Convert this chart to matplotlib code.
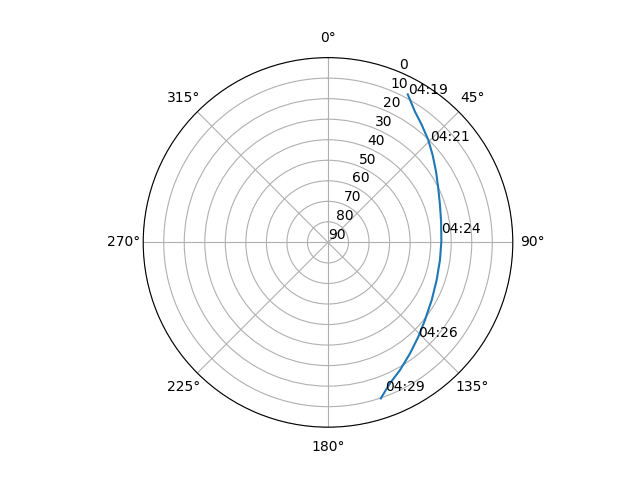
import matplotlib
matplotlib.use('Agg')
import matplotlib.pyplot as plt
import numpy as np

# satellite pass track: azimuth (deg), elevation (deg)
az = [28.3, 33.6, 38.6, 44.4, 50.1, 56.8, 63.9, 71.5, 79.6, 89.6, 98.9,
      109.1, 119.1, 128.7, 136.2, 143.5, 150.6, 156.3, 161.3]
el = [8.1, 13.5, 16.8, 20.2, 23.6, 27.1, 30.2, 32.5, 34.0, 34.8, 34.8,
      34.0, 32.2, 29.5, 26.4, 22.8, 18.6, 15.0, 9.8]

# time marks along the pass
mark_az = [28.3, 45.0, 85.2, 136.5, 159.1]
mark_el = [8.1, 19.9, 34.8, 26.3, 12.5]
mark_txt = ['04:19', '04:21', '04:24', '04:26', '04:29']

fig = plt.figure(figsize=(6.4, 4.8))
ax = fig.add_subplot(111, projection='polar')
ax.set_theta_zero_location('N')
ax.set_theta_direction(-1)
ax.plot(np.radians(az), el)
for a, e, t in zip(mark_az, mark_el, mark_txt):
    ax.text(np.radians(a), e, t)
ax.set_rlim(90, 0)
ax.set_yticks(range(0, 91, 10))
plt.savefig('out.png')
